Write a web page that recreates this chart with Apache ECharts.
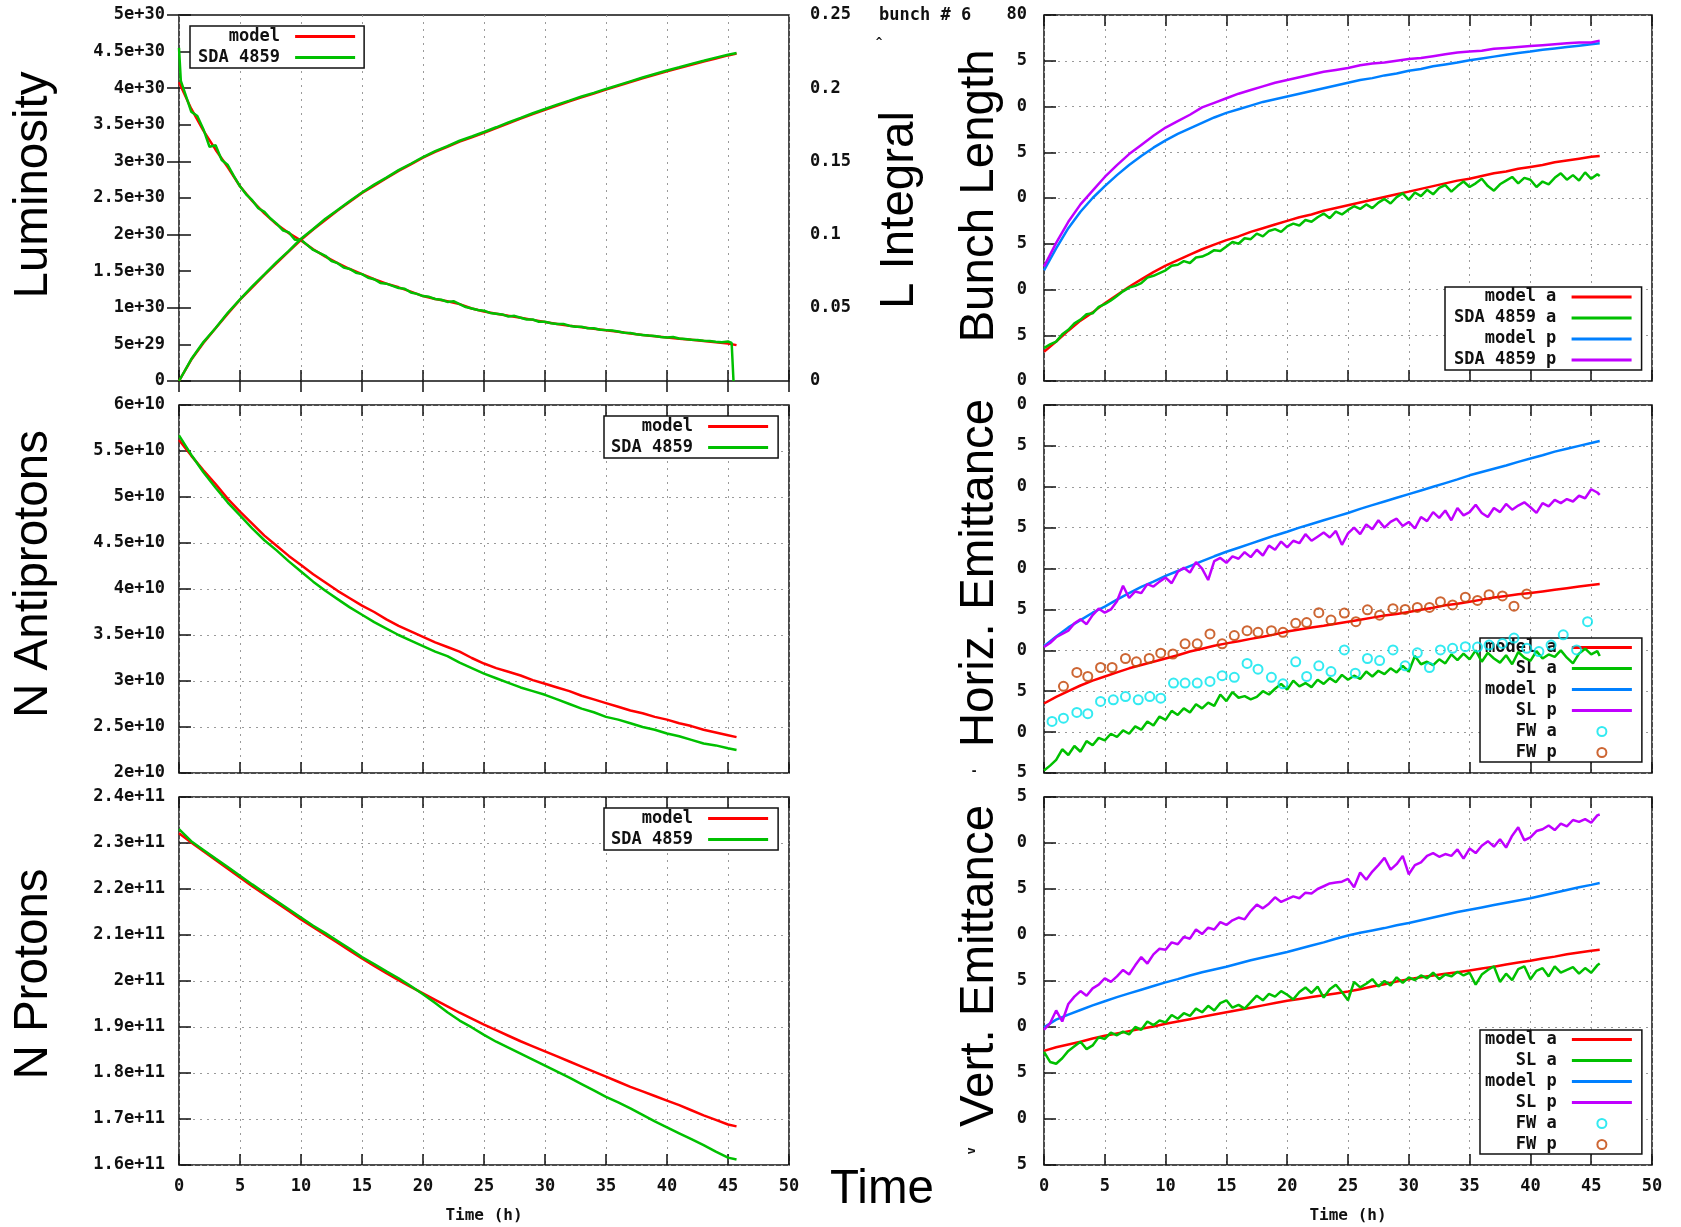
<!DOCTYPE html>
<html><head><meta charset="utf-8">
<script src="https://cdn.jsdelivr.net/npm/echarts@6/dist/echarts.min.js"></script>
<style>html,body{margin:0;padding:0;background:#fff}#c{width:1681px;height:1227px}</style>
</head><body><div id="c"></div>
<script>
// ---------------- time grids (hours) ----------------
const T1 = [0,1,2,3,4,5,6,7,8,9,10,11,12,13,14,15,16,17,18,19,20,21,22,23,24,25,26,27,28,29,30,31,32,33,34,35,36,37,38,39,40,41,42,43,44,45,45.7];
const T05 = [0,0.5,1,1.5,2,2.5,3,3.5,4,4.5, 5,5.5,6,6.5,7,7.5,8,8.5,9,9.5, 10,10.5,11,11.5,12,12.5,13,13.5,14,14.5,
  15,15.5,16,16.5,17,17.5,18,18.5,19,19.5, 20,20.5,21,21.5,22,22.5,23,23.5,24,24.5, 25,25.5,26,26.5,27,27.5,28,28.5,29,29.5,
  30,30.5,31,31.5,32,32.5,33,33.5,34,34.5, 35,35.5,36,36.5,37,37.5,38,38.5,39,39.5, 40,40.5,41,41.5,42,42.5,43,43.5,44,44.5, 45,45.5,45.7];
const LUM_DATA_T = [0,0.15, 0.5,1,1.5,2,2.5,3,3.5,4,4.5,5, 5.5,6,6.5,7,7.5,8,8.5,9,9.5,10, 10.5,11,11.5,12,12.5,13,13.5,14,14.5,15,
  15.5,16,16.5,17,17.5,18,18.5,19,19.5,20, 20.5,21,21.5,22,22.5,23,23.5,24,24.5,25, 25.5,26,26.5,27,27.5,28,28.5,29,29.5,30,
  30.5,31,31.5,32,32.5,33,33.5,34,34.5,35, 35.5,36,36.5,37,37.5,38,38.5,39,39.5,40, 40.5,41,41.5,42,42.5,43,43.5,44,44.5,45, 45.3,45.45];

// ---------------- tick labels ----------------
const X_TICKS = ['0','5','10','15','20','25','30','35','40','45','50'];
const LUM_TICKS = ['0','5e+29','1e+30','1.5e+30','2e+30','2.5e+30','3e+30','3.5e+30','4e+30','4.5e+30','5e+30'];
const LINT_TICKS = ['0','0.05','0.1','0.15','0.2','0.25'];
const PBAR_TICKS = ['2e+10','2.5e+10','3e+10','3.5e+10','4e+10','4.5e+10','5e+10','5.5e+10','6e+10'];
const P_TICKS = ['1.6e+11','1.7e+11','1.8e+11','1.9e+11','2e+11','2.1e+11','2.2e+11','2.3e+11','2.4e+11'];
const BUNCH_TICKS = ['40','45','50','55','60','65','70','75','80'];
const HEMIT_TICKS = ['5','10','15','20','25','30','35','40','45','50'];
const VEMIT_TICKS = ['5','10','15','20','25','30','35','40','45'];

// ---------------- Luminosity (units of 1e30) ----------------
const LUM_MODEL = [4.08,3.72,3.42,3.16,2.92,2.66,2.46,2.29,2.14,2.02, 1.92,1.80,1.70,1.61,1.53,1.46,1.39,1.33,1.28,1.22,
  1.16,1.12,1.09,1.05,0.99,0.95,0.92,0.89,0.865,0.835, 0.805,0.78,0.755,0.735,0.713,0.693,0.672,0.65,0.628,0.61,
  0.593,0.578,0.563,0.548,0.528,0.511,0.49];
const LUM_SDA = [4.55,4.10, 3.93,3.68,3.62,3.44,3.20,3.22,3.02,2.95,2.80,2.66, 2.55,2.47,2.36,2.31,2.22,2.15,2.06,2.03,1.93,1.93,
  1.86,1.79,1.75,1.71,1.64,1.61,1.55,1.53,1.48,1.46, 1.41,1.39,1.34,1.33,1.30,1.27,1.26,1.21,1.19,1.16,
  1.15,1.12,1.11,1.08,1.09,1.05,1.01,0.99,0.97,0.96, 0.93,0.92,0.91,0.88,0.89,0.865,0.84,0.84,0.81,0.81,
  0.79,0.78,0.78,0.755,0.74,0.74,0.72,0.72,0.70,0.695, 0.69,0.675,0.66,0.655,0.64,0.63,0.62,0.615,0.60,0.595,
  0.60,0.58,0.575,0.565,0.56,0.55,0.545,0.535,0.53,0.54, 0.52,0.0];
// ---------------- Integrated luminosity ----------------
const LINT_MODEL = [0,0.0145,0.026,0.036,0.046,0.0555,0.064,0.0725,0.0805,0.0885, 0.0965,0.1035,0.110,0.1165,0.1225,0.1285,0.1335,0.1385,0.1435,0.148,
  0.1525,0.1565,0.160,0.1635,0.1665,0.1695,0.1728,0.176,0.1792,0.1823, 0.1853,0.1882,0.191,0.1937,0.1963,0.1990,0.2016,0.2042,0.2068,0.2092,
  0.2115,0.2138,0.216,0.2182,0.2203,0.2224,0.2236];
const LINT_SDA = [0,0.0148,0.0266,0.0362,0.0466,0.0558,0.0646,0.0728,0.0812,0.0889, 0.0972,0.1038,0.1108,0.1168,0.1230,0.1288,0.1341,0.1389,0.1440,0.1484,
  0.1530,0.1570,0.1604,0.1641,0.1670,0.1701,0.1733,0.1766,0.1797,0.1829, 0.1858,0.1888,0.1915,0.1943,0.1968,0.1995,0.2021,0.2047,0.2073,0.2097,
  0.2121,0.2143,0.2166,0.2187,0.2209,0.2229,0.2240];

// ---------------- N antiprotons (1e10) ----------------
const PBAR_MODEL = [5.62,5.45,5.29,5.14,4.98,4.84,4.71,4.58,4.47,4.36, 4.26,4.16,4.07,3.98,3.90,3.82,3.75,3.67,3.60,3.54,
  3.48,3.42,3.37,3.32,3.25,3.19,3.14,3.10,3.06,3.01, 2.97,2.93,2.89,2.84,2.80,2.76,2.72,2.68,2.65,2.61, 2.58,2.54,2.51,2.47,2.44,2.41,2.39];
const PBAR_SDA = [5.67,5.46,5.27,5.10,4.94,4.80,4.66,4.53,4.42,4.30, 4.19,4.08,3.98,3.89,3.80,3.72,3.64,3.57,3.50,3.44,
  3.38,3.32,3.27,3.20,3.14,3.08,3.03,2.98,2.93,2.89, 2.85,2.80,2.75,2.70,2.66,2.61,2.58,2.54,2.50,2.47, 2.43,2.40,2.36,2.32,2.30,2.27,2.25];

// ---------------- N protons (1e11) ----------------
const P_MODEL = [2.321,2.301,2.282,2.263,2.244,2.225,2.206,2.188,2.170,2.152, 2.134,2.117,2.100,2.083,2.066,2.049,2.033,2.017,2.002,1.987,
  1.973,1.959,1.945,1.931,1.918,1.905,1.893,1.881,1.869,1.858, 1.847,1.836,1.825,1.814,1.803,1.792,1.781,1.770,1.760,1.750,
  1.740,1.730,1.719,1.708,1.698,1.688,1.684];
const P_SDA = [2.330,2.304,2.285,2.266,2.248,2.229,2.210,2.192,2.174,2.156, 2.138,2.120,2.104,2.087,2.070,2.052,2.037,2.021,2.006,1.989,
  1.971,1.952,1.932,1.914,1.899,1.883,1.868,1.855,1.842,1.829, 1.816,1.803,1.790,1.776,1.762,1.748,1.736,1.723,1.709,1.695,
  1.682,1.669,1.656,1.643,1.629,1.616,1.612];

// ---------------- Bunch length ----------------
const BL_MODEL_A = [43.2,44.3,45.5,46.6,47.5,48.5,49.4,50.3,51.1,51.9, 52.6,53.2,53.8,54.4,54.9,55.4,55.8,56.3,56.7,57.1,
  57.5,57.9,58.2,58.6,58.9,59.2,59.5,59.8,60.1,60.4, 60.7,61.0,61.3,61.6,61.9,62.1,62.4,62.7,62.9,63.2, 63.4,63.6,63.9,64.1,64.3,64.5,64.6];
const BL_SDA_A = [43.6,44.0,44.3,45.1,45.6,46.3,46.7,47.3,47.4,48.1, 48.4,48.8,49.3,49.8,50.2,50.4,50.7,51.3,51.5,51.8,
  52.1,52.6,52.7,53.1,52.9,53.5,53.6,53.9,54.3,54.2, 54.7,55.2,55.0,55.6,55.5,56.1,55.8,56.4,56.6,56.3,
  56.9,57.2,57.0,57.6,57.4,57.9,58.3,57.8,58.5,58.2, 58.7,59.1,58.8,59.3,58.9,59.5,59.9,59.4,60.1,60.5,
  59.8,60.6,60.2,60.9,60.4,61.1,61.4,60.7,61.3,61.8, 61.2,61.6,62.1,61.3,60.8,61.5,61.9,62.3,61.6,62.2,
  62.0,61.2,61.8,61.5,62.2,62.7,62.0,62.5,61.9,62.8, 62.1,62.6,62.4];
const BL_MODEL_P = [52.1,54.5,56.7,58.5,60.0,61.3,62.5,63.6,64.6,65.5, 66.3,67.0,67.6,68.2,68.8,69.3,69.7,70.1,70.5,70.8,
  71.1,71.4,71.7,72.0,72.3,72.6,72.9,73.1,73.4,73.6, 73.9,74.1,74.4,74.6,74.8,75.05,75.25,75.45,75.65,75.85, 76.0,76.2,76.35,76.5,76.65,76.8,76.9];
const BL_SDA_P = [52.5,55.1,57.4,59.3,60.8,62.3,63.6,64.8,65.8,66.8, 67.7,68.4,69.1,69.9,70.4,70.9,71.4,71.8,72.2,72.6,
  72.9,73.2,73.5,73.8,74.0,74.2,74.5,74.7,74.8,75.0, 75.2,75.3,75.5,75.7,75.9,76.0,76.1,76.3,76.4,76.5, 76.6,76.7,76.8,76.9,77.0,77.0,77.2];

// ---------------- Horizontal emittance ----------------
const HE_MODEL_A = [13.5,14.3,15.0,15.7,16.3,16.8,17.3,17.8,18.2,18.6, 19.0,19.4,19.85,20.2,20.55,20.85,21.1,21.4,21.65,21.95,
  22.3,22.55,22.8,23.0,23.25,23.5,23.75,24.0,24.25,24.45, 24.7,24.95,25.2,25.5,25.7,25.95,26.2,26.45,26.65,26.85, 27.0,27.2,27.4,27.6,27.8,28.0,28.1];
const HE_SL_A = [5.3,5.9,6.6,7.9,7.2,8.3,7.6,8.9,8.4,9.3, 9.0,9.8,9.4,10.2,9.8,10.7,10.3,11.3,10.8,11.9,
  11.5,12.6,12.1,12.9,12.4,13.4,12.9,13.6,13.2,14.6, 13.8,14.9,14.2,14.4,14.0,14.3,15.0,14.6,15.3,15.9,
  15.2,16.3,15.6,16.0,15.5,16.4,15.9,16.6,16.1,17.0, 16.4,16.9,16.5,17.4,16.8,17.5,17.1,17.8,17.3,18.1,
  17.4,19.3,18.3,18.6,18.2,18.9,18.4,19.5,18.8,19.6, 18.9,20.0,18.6,19.7,19.0,18.5,19.4,18.3,19.8,19.1,
  18.7,19.9,19.0,19.5,19.2,20.0,19.1,18.4,19.6,20.2, 19.5,19.9,19.3];
const HE_MODEL_P = [20.5,21.7,22.8,23.7,24.6,25.35,26.2,27.0,27.75,28.4, 29.1,29.7,30.3,30.9,31.5,32.05,32.55,33.05,33.55,34.05,
  34.5,35.0,35.45,35.9,36.35,36.8,37.3,37.75,38.2,38.65, 39.1,39.55,40.0,40.45,40.9,41.4,41.8,42.2,42.6,43.05, 43.45,43.85,44.3,44.65,45.0,45.35,45.6];
const HE_SL_P = [20.4,20.9,21.6,22.0,22.4,23.3,23.8,23.2,24.3,25.1, 24.6,25.0,26.0,27.9,26.4,27.2,27.0,28.1,27.8,28.4,
  28.9,28.2,29.6,30.1,29.5,30.8,30.0,28.6,30.9,31.3, 30.7,31.5,31.2,32.0,31.4,32.3,31.6,32.8,32.3,33.3,
  32.6,33.4,33.1,34.2,33.4,33.9,34.4,33.8,34.6,32.9, 34.3,35.0,34.2,35.4,34.8,35.9,35.0,35.7,36.1,35.2,
  35.7,34.9,36.3,35.8,36.9,36.2,37.1,35.9,37.4,36.5, 36.9,37.8,36.8,36.3,37.4,36.9,37.9,37.2,37.7,38.1,
  37.5,36.8,38.0,37.6,38.4,38.0,38.5,38.2,38.9,38.6, 39.7,39.3,39.0];
const FW_A_T = [0.66,1.6,2.7,3.6,4.65,5.7,6.7,7.75,8.7,9.6, 10.65,11.6,12.6,13.65,14.65,15.65,16.7,17.6,18.7,19.65,
  20.7,21.6,22.6,23.6,24.7,25.6,26.6,27.6,28.7,29.7, 30.7,31.7,32.6,33.6,34.65,35.65,36.6,37.7,38.65,39.7, 40.7,41.7,42.7,43.8,44.7];
const FW_A = [11.3,11.7,12.4,12.25,13.75,13.95,14.35,13.95,14.35,14.15, 16.0,16.0,16.0,16.2,16.9,16.7,18.4,17.7,16.7,15.9,
  18.6,16.8,18.1,17.4,20.05,17.2,19.0,18.75,20.05,18.1, 19.7,17.9,20.05,20.25,20.45,20.4,20.65,20.85,21.5,20.25, 19.85,20.65,21.9,20.05,23.5];
const FW_P_T = [1.6,2.7,3.6,4.65,5.6,6.7,7.6,8.65,9.6,10.6, 11.6,12.6,13.65,14.65,15.65,16.7,17.6,18.7,19.65,20.7,
  21.6,22.6,23.6,24.7,25.65,26.6,27.6,28.7,29.7,30.7, 31.7,32.6,33.6,34.65,35.65,36.6,37.7,38.65,39.7];
const FW_P = [15.6,17.3,16.8,17.9,17.9,19.0,18.6,19.0,19.65,19.55, 20.8,20.8,22.0,20.8,21.8,22.4,22.2,22.4,22.2,23.3,
  23.4,24.6,23.7,24.55,23.5,24.95,24.3,25.1,25.0,25.25, 25.25,25.95,25.55,26.5,26.1,26.8,26.65,25.4,26.9];

// ---------------- Vertical emittance ----------------
const VE_MODEL_A = [17.4,17.8,18.1,18.4,18.75,19.05,19.3,19.55,19.8,20.05, 20.35,20.6,20.85,21.1,21.35,21.6,21.85,22.1,22.35,22.6,
  22.85,23.05,23.25,23.45,23.65,23.85,24.1,24.4,24.65,24.95, 25.2,25.4,25.6,25.8,25.95,26.15,26.35,26.55,26.8,27.0, 27.2,27.45,27.65,27.9,28.1,28.3,28.4];
const VE_SL_A = [17.3,16.2,16.0,16.6,17.4,17.9,18.4,17.6,18.0,18.9, 18.7,19.4,19.1,19.5,19.2,20.0,19.7,20.6,20.2,20.7,
  20.5,21.3,20.9,21.5,21.2,22.0,21.6,22.3,21.8,22.6, 22.9,22.1,22.4,22.0,22.7,23.4,22.9,23.6,23.3,23.9,
  23.5,23.0,23.8,24.3,23.7,24.4,23.2,24.1,24.6,23.8, 22.9,24.9,24.3,24.7,25.2,24.4,25.0,24.5,25.4,24.8,
  25.4,25.1,25.6,25.3,25.9,25.2,25.7,25.5,26.0,25.6, 25.9,24.6,25.7,26.2,26.6,24.9,25.8,25.1,26.3,26.6,
  25.2,26.1,26.4,25.5,26.6,25.9,26.2,26.5,25.8,26.4, 25.9,26.7,26.9];
const VE_MODEL_P = [19.97,20.8,21.35,21.85,22.35,22.8,23.25,23.65,24.05,24.45, 24.85,25.2,25.6,25.95,26.25,26.55,26.9,27.25,27.55,27.85,
  28.15,28.5,28.85,29.2,29.6,29.95,30.25,30.5,30.75,31.05, 31.3,31.6,31.9,32.2,32.5,32.75,33.0,33.25,33.5,33.75, 34.0,34.3,34.6,34.9,35.2,35.45,35.65];
const VE_SL_P = [19.7,20.4,21.8,20.6,22.5,23.3,23.9,23.4,24.2,24.6, 25.3,24.9,25.5,26.2,25.7,26.7,27.6,26.9,27.9,28.5,
  28.4,29.2,29.0,29.8,29.6,30.6,30.1,30.8,30.6,31.4, 31.1,31.6,31.9,31.7,32.6,33.3,32.9,33.4,34.1,33.6,
  33.9,34.2,34.0,34.6,34.5,35.0,35.3,35.6,35.7,35.8, 36.1,35.2,36.8,36.0,36.9,37.6,38.4,37.1,37.7,38.6,
  36.6,37.6,37.9,38.6,38.9,38.5,38.8,38.6,39.3,38.3, 39.4,38.9,39.7,40.2,39.6,40.4,39.5,40.8,41.7,40.3,
  40.6,41.3,41.5,41.9,41.4,42.1,41.8,42.5,42.3,42.6, 42.2,43.0,43.1];

// ================= chart building =================
const MONO = "'DejaVu Sans Mono', monospace";
const SANS = "'Liberation Sans', Arial, sans-serif";
const C = {red:'#ff0000', green:'#00c000', blue:'#0080ff', purple:'#c000ff', cyan:'#00e5ee', brown:'#c04000'};
const INK = '#111';

function zip(t, v) {
  const n = Math.min(t.length, v.length);
  if (t.length !== v.length) console.warn('length mismatch', t.length, v.length);
  const out = [];
  for (let i = 0; i < n; i++) out.push([t[i], v[i]]);
  return out;
}

const GRIDS = [
  {left:179, top:15, width:610, height:366},
  {left:179, top:405, width:610, height:368},
  {left:179, top:797, width:610, height:368},
  {left:1044, top:15, width:608, height:366},
  {left:1044, top:405, width:608, height:368},
  {left:1044, top:797, width:608, height:368}
];

const labelFont = {fontFamily: MONO, fontWeight: 'bold', fontSize: 17, color: INK};
const dotted = {show: true, lineStyle: {color: '#9a9a9a', type: [2, 5], width: 1}};
const tick = len => ({show: true, inside: true, length: len, lineStyle: {color: INK, width: 1.5}});

function xBottom(gi, showLabels) {
  return {
    type: 'value', gridIndex: gi, min: 0, max: 50, interval: 5, position: 'bottom',
    axisLine: {show: false}, axisTick: tick(11),
    axisLabel: Object.assign({show: showLabels, margin: 13, formatter: (v, i) => X_TICKS[i]}, labelFont),
    splitLine: dotted,
    name: showLabels ? 'Time (h)' : '', nameLocation: 'middle', nameGap: 43,
    nameTextStyle: {fontFamily: MONO, fontWeight: 'bold', fontSize: 16, color: INK}
  };
}
function xTop(gi) {
  return {
    type: 'value', gridIndex: gi, min: 0, max: 50, interval: 5, position: 'top',
    axisLine: {show: false}, axisTick: tick(11), axisLabel: {show: false}, splitLine: {show: false}
  };
}
function yAx(gi, min, max, interval, labels, opt) {
  opt = opt || {};
  return {
    type: 'value', gridIndex: gi, min, max, interval, position: opt.position || 'left',
    axisLine: {show: false}, axisTick: tick(12),
    axisLabel: Object.assign({margin: opt.margin || 14, formatter: (v, i) => labels[i]}, labelFont),
    splitLine: opt.noSplit ? {show: false} : dotted
  };
}

function line(name, data, xi, yi, color) {
  return {
    type: 'line', name, data, xAxisIndex: xi, yAxisIndex: yi, symbol: 'none', showSymbol: false,
    lineStyle: {color, width: 2.5}, itemStyle: {color}, z: 2, animation: false, silent: true
  };
}
function pts(name, data, xi, yi, color) {
  return {
    type: 'scatter', name, data, xAxisIndex: xi, yAxisIndex: yi, symbol: 'circle', symbolSize: 9,
    itemStyle: {color: 'rgba(0,0,0,0)', borderColor: color, borderWidth: 2}, z: 3, animation: false, silent: true
  };
}

const LINE_ICON = 'path://M0,0H60V3H0Z';
const POINT_COLORS = {'FW a': C.cyan, 'FW p': C.brown};
function legend(names, left, top, padding) {
  return {
    orient: 'vertical', align: 'right', left, top, padding, itemGap: 4, itemWidth: 60, itemHeight: 9, z: 1,
    backgroundColor: '#fff', borderColor: INK, borderWidth: 1.5, borderRadius: 0, selectedMode: false,
    itemStyle: {borderWidth: 0},
    textStyle: {fontFamily: MONO, fontWeight: 'bold', fontSize: 17, color: INK},
    formatter: n => n + ' ',
    data: names.map(n => POINT_COLORS[n]
      ? {name: n, icon: 'circle', itemStyle: {color: 'rgba(0,0,0,0)', borderColor: POINT_COLORS[n], borderWidth: 2}}
      : {name: n, icon: LINE_ICON})
  };
}

function vText(text, x, y) {
  return {type: 'text', x, y, rotation: Math.PI / 2, z: 60,
    style: {text, font: '47.5px ' + SANS, fill: '#000', align: 'center', verticalAlign: 'middle'}};
}

const option = {
  animation: false,
  backgroundColor: '#fff',
  grid: GRIDS.map(g => Object.assign({show: true, borderColor: INK, borderWidth: 1.5, backgroundColor: 'transparent'}, g)),
  xAxis: [
    xBottom(0, false), xBottom(1, false), xBottom(2, true),
    xBottom(3, false), xBottom(4, false), xBottom(5, true),
    xTop(0), xTop(1), xTop(2), xTop(3), xTop(4), xTop(5)
  ],
  yAxis: [
    yAx(0, 0, 5, 0.5, LUM_TICKS, {noSplit: true}),
    yAx(0, 0, 0.25, 0.05, LINT_TICKS, {noSplit: true, position: 'right', margin: 21}),
    yAx(1, 2, 6, 0.5, PBAR_TICKS),
    yAx(2, 1.6, 2.4, 0.1, P_TICKS),
    yAx(3, 40, 80, 5, BUNCH_TICKS, {margin: 17}),
    yAx(4, 5, 50, 5, HEMIT_TICKS, {margin: 17}),
    yAx(5, 5, 45, 5, VEMIT_TICKS, {margin: 17})
  ],
  legend: [
    legend(['model', 'SDA 4859'], 190, 26, [2, 9, 2, 8]),
    legend(['model', 'SDA 4859'], 604, 416, [2, 10, 2, 7]),
    legend(['model', 'SDA 4859'], 604, 808, [2, 10, 2, 7]),
    legend(['model a', 'SDA 4859 a', 'model p', 'SDA 4859 p'], 1445, 287, [1.5, 10, 1.5, 9]),
    legend(['model a', 'SL a', 'model p', 'SL p', 'FW a', 'FW p'], 1480, 638, [1, 10, 1, 5]),
    legend(['model a', 'SL a', 'model p', 'SL p', 'FW a', 'FW p'], 1480, 1030, [1, 10, 1, 5])
  ],
  series: [
    line('model', zip(T1, LUM_MODEL), 0, 0, C.red),
    line('SDA 4859', zip(LUM_DATA_T, LUM_SDA), 0, 0, C.green),
    line('model', zip(T1, LINT_MODEL), 0, 1, C.red),
    line('SDA 4859', zip(T1, LINT_SDA), 0, 1, C.green),

    line('model', zip(T1, PBAR_MODEL), 1, 2, C.red),
    line('SDA 4859', zip(T1, PBAR_SDA), 1, 2, C.green),

    line('model', zip(T1, P_MODEL), 2, 3, C.red),
    line('SDA 4859', zip(T1, P_SDA), 2, 3, C.green),

    line('model a', zip(T1, BL_MODEL_A), 3, 4, C.red),
    line('SDA 4859 a', zip(T05, BL_SDA_A), 3, 4, C.green),
    line('model p', zip(T1, BL_MODEL_P), 3, 4, C.blue),
    line('SDA 4859 p', zip(T1, BL_SDA_P), 3, 4, C.purple),

    line('model a', zip(T1, HE_MODEL_A), 4, 5, C.red),
    line('SL a', zip(T05, HE_SL_A), 4, 5, C.green),
    line('model p', zip(T1, HE_MODEL_P), 4, 5, C.blue),
    line('SL p', zip(T05, HE_SL_P), 4, 5, C.purple),
    pts('FW a', zip(FW_A_T, FW_A), 4, 5, C.cyan),
    pts('FW p', zip(FW_P_T, FW_P), 4, 5, C.brown),

    line('model a', zip(T1, VE_MODEL_A), 5, 6, C.red),
    line('SL a', zip(T05, VE_SL_A), 5, 6, C.green),
    line('model p', zip(T1, VE_MODEL_P), 5, 6, C.blue),
    line('SL p', zip(T05, VE_SL_P), 5, 6, C.purple)
  ],
  graphic: {elements: [
    {type: 'rect', z: 50, shape: {x: 935, y: 32, width: 82, height: 1150}, style: {fill: '#fff'}},
    vText('Luminosity', 34, 185),
    vText('N Antiprotons', 34, 574),
    vText('N Protons', 34, 974),
    vText('L Integral', 900, 210),
    vText('Bunch Length', 980, 196),
    vText('Horiz. Emittance', 980, 573),
    vText('Vert. Emittance', 980, 966),
    {type: 'text', x: 882, y: 1190, z: 60,
      style: {text: 'Time', font: '47.5px ' + SANS, fill: '#000', align: 'center', verticalAlign: 'middle'}},
    {type: 'text', x: 879, y: 16, z: 60,
      style: {text: 'bunch # 6', font: 'bold 17px ' + MONO, fill: INK, align: 'left', verticalAlign: 'middle'}},
    {type: 'text', x: 879, y: 42, z: 60,
      style: {text: '^', font: 'bold 11px ' + MONO, fill: INK, align: 'center', verticalAlign: 'middle'}},
    {type: 'text', x: 974, y: 772, z: 60,
      style: {text: '-', font: 'bold 12px ' + MONO, fill: INK, align: 'center', verticalAlign: 'middle'}},
    {type: 'text', x: 972, y: 1151, z: 60, rotation: Math.PI / 2,
      style: {text: 'v', font: 'bold 12px ' + MONO, fill: INK, align: 'center', verticalAlign: 'middle'}}
  ]}
};

const chart = echarts.init(document.getElementById('c'), null, {renderer: 'canvas', width: 1681, height: 1227});
chart.setOption(option);
</script>
</body></html>
